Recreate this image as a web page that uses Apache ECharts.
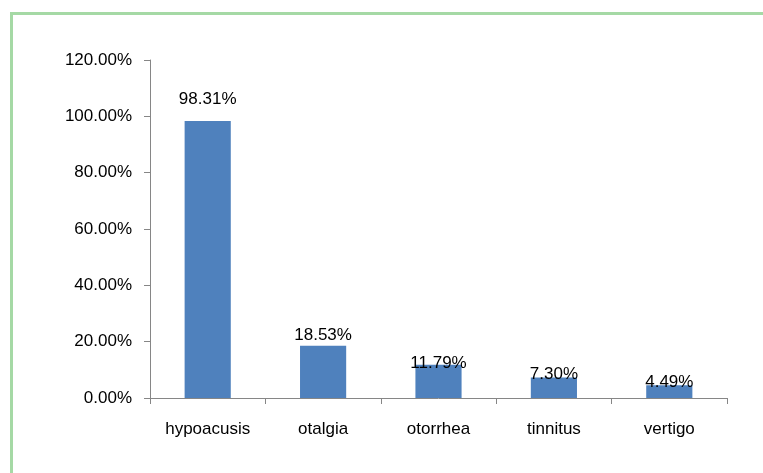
<!DOCTYPE html>
<html>
<head>
<meta charset="utf-8">
<script src="https://cdn.jsdelivr.net/npm/echarts@6/dist/echarts.min.js"></script>
<style>
html,body{margin:0;padding:0;background:#fff;}
#chart{width:763px;height:473px;}
</style>
</head>
<body>
<div id="chart"></div>
<script>
const categories = ['hypoacusis', 'otalgia', 'otorrhea', 'tinnitus', 'vertigo'];
const values = [0.9831, 0.1853, 0.1179, 0.0730, 0.0449];
const yTicks = [0, 0.2, 0.4, 0.6, 0.8, 1.0, 1.2];

const labelDistance = [13, 2, -7, -5, -5];
const pct = v => (v * 100).toFixed(2) + '%';
const FONT = '"Liberation Sans", Arial, sans-serif';

const chart = echarts.init(document.getElementById('chart'));
chart.setOption({
  animation: false,
  backgroundColor: '#fff',
  graphic: [{
    type: 'rect',
    shape: { x: 11.5, y: 13.5, width: 800, height: 500 },
    style: { fill: 'none', stroke: '#a5d9a5', lineWidth: 3 },
    silent: true
  }],
  grid: { left: 150, right: 36, top: 60, bottom: 75 },
  xAxis: {
    type: 'category',
    data: categories,
    axisLine: { lineStyle: { color: '#868686', width: 1 } },
    axisTick: { show: true, length: 6, alignWithLabel: false, lineStyle: { color: '#868686' } },
    axisLabel: { color: '#000', fontFamily: FONT, fontSize: 17, margin: 23 }
  },
  yAxis: {
    type: 'value',
    min: yTicks[0],
    max: yTicks[yTicks.length - 1],
    interval: 0.2,
    splitLine: { show: false },
    axisLine: { show: true, lineStyle: { color: '#868686', width: 1 } },
    axisTick: { show: true, length: 6, lineStyle: { color: '#868686' } },
    axisLabel: { color: '#000', fontFamily: FONT, fontSize: 17, margin: 18, formatter: pct }
  },
  series: [{
    type: 'bar',
    barWidth: '40%',
    itemStyle: { color: '#4f81bd' },
    data: values.map((v, i) => ({
      value: v,
      label: { distance: labelDistance[i] }
    })),
    label: {
      show: true,
      position: 'top',
      color: '#000',
      fontFamily: FONT,
      fontSize: 17,
      formatter: p => pct(p.value)
    }
  }]
});
</script>
</body>
</html>
